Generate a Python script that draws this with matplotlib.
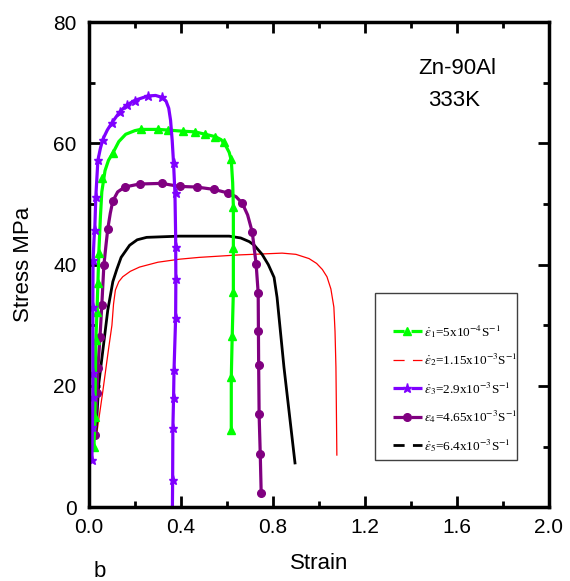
import matplotlib
matplotlib.use("Agg")
import matplotlib.pyplot as plt
from matplotlib.lines import Line2D
from matplotlib.patches import Rectangle

plt.rcParams['font.family'] = ['Liberation Sans', 'DejaVu Sans']
plt.rcParams['mathtext.fontset'] = 'stix'
plt.rcParams['lines.scale_dashes'] = False

# eps1 = 5x10^-4 (green, triangles)
g_x = [0.022, 0.026, 0.030, 0.035, 0.039, 0.043, 0.050, 0.056, 0.070, 0.085, 0.104, 0.13, 0.16, 0.20, 0.225, 0.30, 0.342, 0.41, 0.46, 0.506, 0.55, 0.575, 0.595, 0.610, 0.619, 0.625, 0.628, 0.628, 0.628, 0.623, 0.619, 0.619]
g_y = [9.9, 14.8, 27.5, 32.2, 36.9, 41.9, 47.9, 52.0, 55.5, 57.2, 58.4, 60.3, 61.5, 62.1, 62.3, 62.3, 62.2, 62.0, 61.9, 61.5, 61.1, 60.6, 59.6, 58.5, 57.2, 53.5, 49.5, 42.7, 35.5, 28.2, 21.4, 12.7]
g_mx = [0.022, 0.026, 0.030, 0.035, 0.039, 0.043, 0.056, 0.104, 0.225, 0.30, 0.342, 0.41, 0.46, 0.506, 0.55, 0.589, 0.619, 0.628, 0.628, 0.628, 0.623, 0.619, 0.619]
g_my = [9.9, 14.8, 27.5, 32.2, 36.9, 41.9, 54.3, 58.4, 62.3, 62.3, 62.2, 62.0, 61.9, 61.5, 61.1, 60.2, 57.5, 49.5, 42.7, 35.5, 28.2, 21.4, 12.7]

# eps2 = 1.15x10^-3 (red, thin line)
r_x = [0.035, 0.06, 0.085, 0.10, 0.107, 0.115, 0.13, 0.147, 0.18, 0.22, 0.30, 0.394, 0.48, 0.65, 0.84, 0.90, 0.957, 0.99, 1.015, 1.035, 1.052, 1.065, 1.070, 1.074, 1.076, 1.078]
r_y = [12.4, 19.0, 26.0, 30.0, 33.5, 35.8, 37.2, 38.0, 38.9, 39.6, 40.4, 40.9, 41.2, 41.6, 41.9, 41.7, 41.0, 40.2, 39.2, 38.0, 36.0, 33.0, 29.0, 23.1, 16.0, 8.6]

# eps3 = 2.9x10^-3 (violet, stars)
v_x = [0.013, 0.015, 0.017, 0.017, 0.017, 0.018, 0.022, 0.026, 0.030, 0.039, 0.050, 0.061, 0.080, 0.10, 0.134, 0.164, 0.20, 0.255, 0.29, 0.316, 0.335, 0.347, 0.355, 0.362, 0.368, 0.374, 0.377, 0.378, 0.377, 0.370, 0.368, 0.365, 0.364, 0.363]
v_y = [7.8, 13.0, 18.0, 22.0, 33.0, 40.7, 44.0, 46.5, 51.2, 57.2, 59.2, 60.7, 62.2, 63.4, 65.2, 66.3, 67.1, 67.8, 67.9, 67.6, 67.0, 65.8, 63.8, 60.5, 56.7, 51.8, 45.0, 37.7, 31.2, 22.6, 18.0, 13.0, 4.5, 0.0]
v_mx = [0.013, 0.015, 0.017, 0.017, 0.017, 0.017, 0.026, 0.030, 0.039, 0.061, 0.10, 0.134, 0.164, 0.20, 0.255, 0.316, 0.368, 0.377, 0.377, 0.378, 0.377, 0.370, 0.368, 0.365, 0.364]
v_my = [7.8, 13.2, 18.1, 22.1, 33.0, 40.7, 45.7, 51.2, 57.2, 60.5, 63.3, 65.2, 66.3, 67.0, 67.8, 67.6, 56.7, 51.8, 42.9, 37.7, 31.2, 22.6, 18.0, 13.0, 4.5]

# eps4 = 4.65x10^-3 (purple, circles)
p_x = [0.026, 0.035, 0.039, 0.048, 0.056, 0.065, 0.075, 0.082, 0.093, 0.104, 0.125, 0.156, 0.22, 0.316, 0.394, 0.468, 0.545, 0.606, 0.64, 0.667, 0.69, 0.71, 0.727, 0.736, 0.737, 0.738, 0.74, 0.745, 0.749]
p_y = [11.9, 18.8, 22.9, 28.0, 33.3, 39.9, 43.5, 45.9, 48.5, 50.5, 52.0, 52.8, 53.3, 53.4, 52.9, 52.8, 52.4, 51.8, 51.2, 50.1, 48.2, 45.4, 40.1, 35.3, 29.0, 23.4, 15.3, 8.7, 2.3]
p_mx = [0.026, 0.035, 0.039, 0.048, 0.056, 0.065, 0.082, 0.104, 0.156, 0.22, 0.316, 0.394, 0.468, 0.545, 0.606, 0.667, 0.71, 0.727, 0.736, 0.737, 0.738, 0.74, 0.745, 0.749]
p_my = [11.9, 18.8, 22.9, 28.0, 33.3, 39.9, 45.9, 50.5, 52.8, 53.3, 53.4, 52.9, 52.8, 52.4, 51.8, 50.1, 45.4, 40.1, 35.3, 29.0, 23.4, 15.3, 8.7, 2.3]

# eps5 = 6.4x10^-3 (black, line)
k_x = [0.03, 0.043, 0.061, 0.082, 0.104, 0.121, 0.14, 0.177, 0.21, 0.251, 0.394, 0.61, 0.66, 0.697, 0.719, 0.753, 0.78, 0.805, 0.818, 0.848, 0.896]
k_y = [12.0, 20.4, 26.0, 32.5, 37.2, 39.2, 41.2, 43.2, 44.1, 44.5, 44.7, 44.7, 44.4, 43.8, 43.2, 41.7, 40.0, 37.9, 34.6, 23.1, 7.3]

labels = [r'$\dot{\varepsilon}_1$=5x10$^{-4}$S$^{-1}$',
          r'$\dot{\varepsilon}_2$=1.15x10$^{-3}$S$^{-1}$',
          r'$\dot{\varepsilon}_3$=2.9x10$^{-3}$S$^{-1}$',
          r'$\varepsilon_4$=4.65x10$^{-3}$S$^{-1}$',
          r'$\dot{\varepsilon}_5$=6.4x10$^{-3}$S$^{-1}$']

GREEN = '#00ff00'
RED = '#ff0000'
VIOLET = '#7f00ff'
PURPLE = '#800080'
BLACK = '#000000'

fig = plt.figure(figsize=(5.70, 5.81), dpi=100)
ax = fig.add_axes([0.156, 0.127, 0.807, 0.835])

ax.plot(r_x, r_y, color=RED, lw=0.9)
ax.plot(k_x, k_y, color=BLACK, lw=2.0)
ax.plot(p_x, p_y, color=PURPLE, lw=2.3)
ax.plot(p_mx, p_my, color=PURPLE, ls='none', marker='o', ms=5.5)
ax.plot(g_x, g_y, color=GREEN, lw=2.3)
ax.plot(g_mx, g_my, color=GREEN, ls='none', marker='^', ms=6)
ax.plot(v_x, v_y, color=VIOLET, lw=2.3)
ax.plot(v_mx, v_my, color=VIOLET, ls='none', marker='*', ms=6.5)

ax.set_xlim(0, 2.0)
ax.set_ylim(0, 80)
ax.set_xticks([0.0, 0.4, 0.8, 1.2, 1.6, 2.0])
ax.set_xticklabels(['0.0', '0.4', '0.8', '1.2', '1.6', '2.0'])
ax.set_xticks([0.2, 0.6, 1.0, 1.4, 1.8], minor=True)
ax.set_yticks([0, 20, 40, 60, 80])
ax.set_yticks([10, 30, 50, 70], minor=True)
ax.tick_params(which='both', direction='in', top=True, right=True, labelsize=15, width=2)
ax.tick_params(axis='x', which='major', length=8, pad=8)
ax.tick_params(axis='y', which='major', length=8, pad=9)
ax.tick_params(which='minor', length=4)
for s in ax.spines.values():
    s.set_linewidth(2.5)

ax.set_xlabel('Strain', fontsize=16)
ax.set_ylabel('Stress MPa', fontsize=16)
ax.xaxis.set_label_coords(0.5, -0.095)
ax.yaxis.set_label_coords(-0.12, 0.5)
fig.text(0.175, 0.016, 'b', fontsize=16, ha='center', va='center')

ax.text(0.716, 0.905, 'Zn-90Al', transform=ax.transAxes, fontsize=16, va='center')
ax.text(0.738, 0.839, '333K', transform=ax.transAxes, fontsize=16, va='center')

# legend box
ax.add_patch(Rectangle((0.623, 0.097), 0.307, 0.344, transform=ax.transAxes,
                       fill=False, edgecolor='#404040', lw=1.0, zorder=5))
handles = [
    Line2D([], [], color=GREEN, lw=2.3, marker='^', ms=6, dashes=(8, 5)),
    Line2D([], [], color=RED, lw=0.9, dashes=(8, 6)),
    Line2D([], [], color=VIOLET, lw=2.3, marker='*', ms=6.5, dashes=(8, 5)),
    Line2D([], [], color=PURPLE, lw=2.3, marker='o', ms=5.5, dashes=(8, 5)),
    Line2D([], [], color=BLACK, lw=2.0, dashes=(8, 6)),
]
leg = ax.legend(handles, labels, loc='upper left', bbox_to_anchor=(0.66, 0.38),
                frameon=False, handlelength=2.2, handletextpad=0.15,
                labelspacing=0.88, numpoints=1, borderaxespad=0, borderpad=0,
                prop={'family': 'Liberation Serif', 'size': 9.5})

fig.savefig('out.png', dpi=100)
